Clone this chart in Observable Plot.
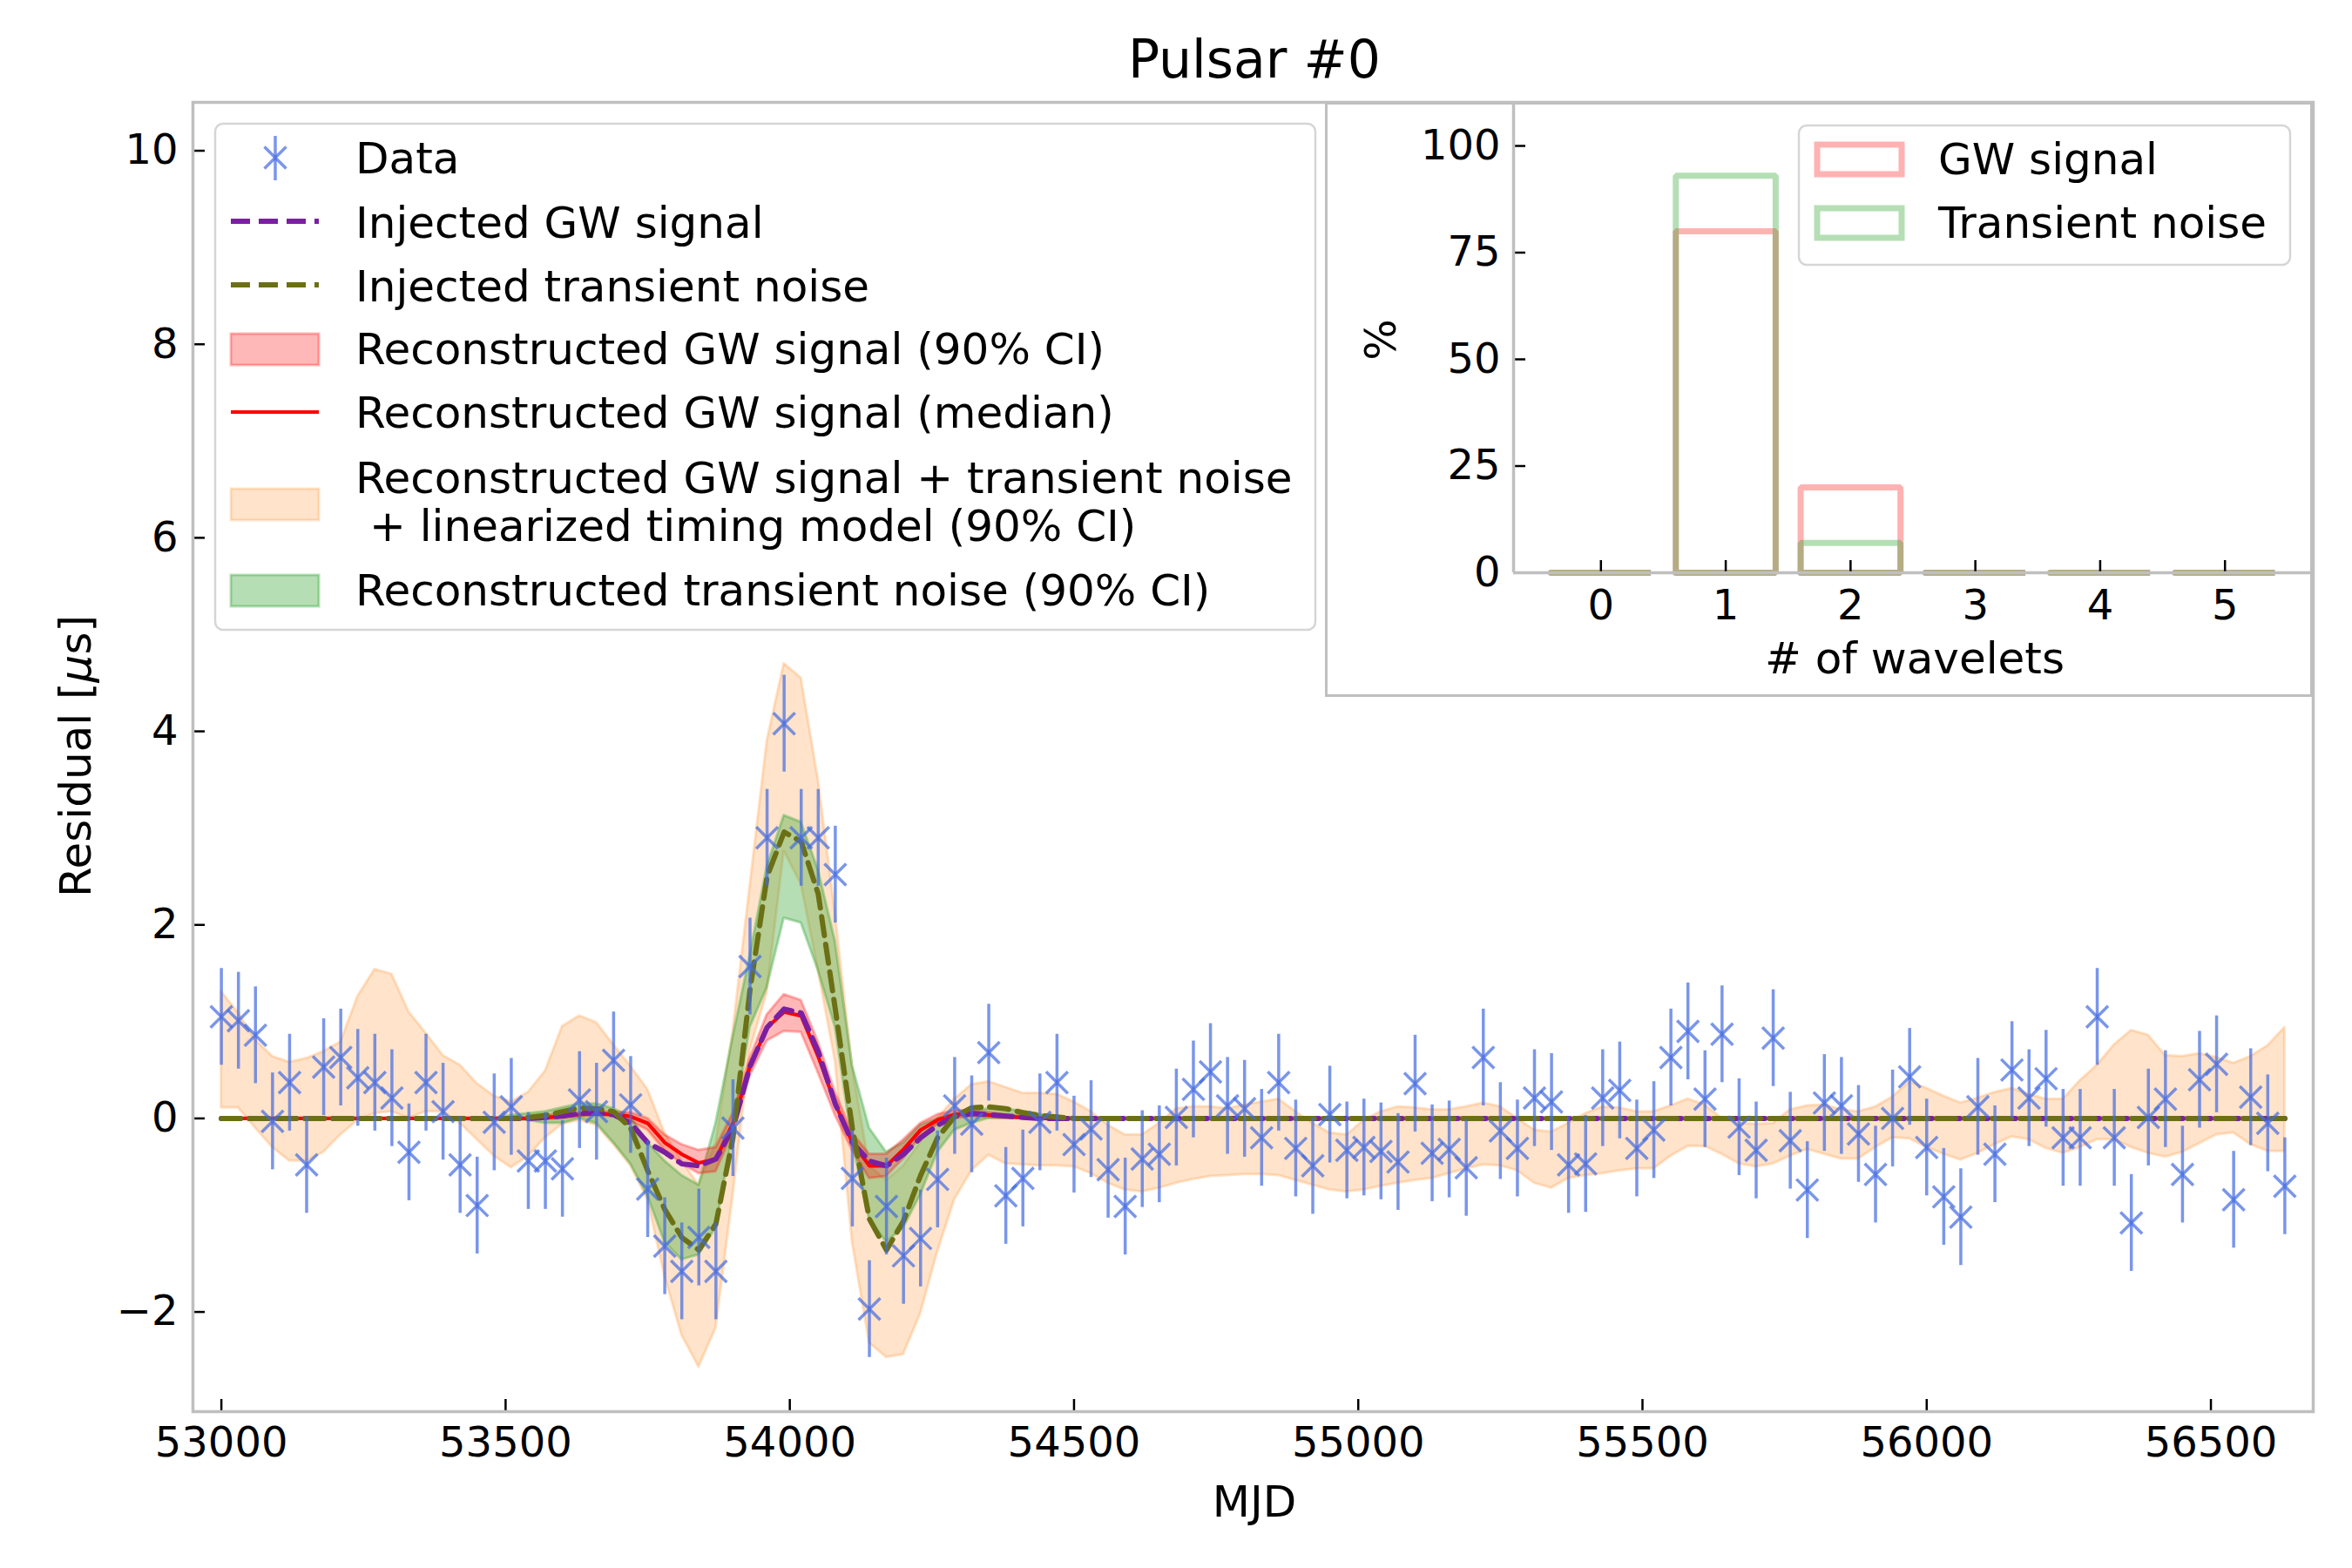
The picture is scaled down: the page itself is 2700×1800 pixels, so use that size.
<!DOCTYPE html>
<html>
<head>
<meta charset="utf-8">
<script src="https://cdn.jsdelivr.net/npm/d3@7"></script>
<script src="https://cdn.jsdelivr.net/npm/@observablehq/plot@0.6"></script>
<style>
  html, body { margin: 0; padding: 0; background: #fff; }
  #fig { position: relative; width: 2700px; height: 1800px; background: #fff; overflow: hidden; font-family: "DejaVu Sans", sans-serif; }
  #fig > svg, #fig > div { position: absolute; }
</style>
</head>
<body>
<div id="fig"></div>
<script>
// ---------------- data ----------------
const mjd = [
53000,53030,53060,53090,53120,53150,53180,53210,53240,53270,
53300,53330,53360,53390,53420,53450,53480,53510,53540,53570,
53600,53630,53660,53690,53720,53750,53780,53810,53840,53870,
53900,53930,53960,53990,54020,54050,54080,54110,54140,54170,
54200,54230,54260,54290,54320,54350,54380,54410,54440,54470,
54500,54530,54560,54590,54620,54650,54680,54710,54740,54770,
54800,54830,54860,54890,54920,54950,54980,55010,55040,55070,
55100,55130,55160,55190,55220,55250,55280,55310,55340,55370,
55400,55430,55460,55490,55520,55550,55580,55610,55640,55670,
55700,55730,55760,55790,55820,55850,55880,55910,55940,55970,
56000,56030,56060,56090,56120,56150,56180,56210,56240,56270,
56300,56330,56360,56390,56420,56450,56480,56510,56540,56570,
56600,56630];

const residual = [
1.05,1.01,0.86,-0.03,0.37,-0.48,0.53,0.63,0.42,0.37,
0.21,-0.35,0.37,0.07,-0.48,-0.90,-0.04,0.12,-0.44,-0.44,
-0.52,0.19,0.07,0.60,0.14,-0.73,-1.32,-1.58,-1.23,-1.58,
-0.10,1.57,2.90,4.08,2.90,2.90,2.52,-0.62,-1.97,-0.91,
-1.42,-1.24,-0.63,0.13,-0.06,0.68,-0.80,-0.62,-0.04,0.37,
-0.27,-0.11,-0.53,-0.91,-0.42,-0.37,0.01,0.30,0.48,0.13,
0.10,-0.20,0.37,-0.31,-0.49,0.04,-0.33,-0.30,-0.34,-0.45,
0.36,-0.36,-0.32,-0.51,0.63,-0.13,-0.31,0.21,0.17,-0.48,
-0.47,0.21,0.29,-0.31,-0.12,0.63,0.90,0.20,0.87,-0.09,
-0.33,0.83,-0.23,-0.74,0.16,0.13,-0.16,-0.58,0.00,0.43,
-0.30,-0.81,-1.02,0.12,-0.37,0.50,0.21,0.41,-0.20,-0.20,
1.05,-0.20,-1.08,0.01,0.20,-0.58,0.40,0.56,-0.84,0.22,
-0.05,-0.70];
const residualError = 0.5;

// GW + transient noise + linearized timing model, 90% CI
const fullHi = [
1.31,1.09,0.81,0.64,0.58,0.62,0.69,0.79,1.26,1.54,
1.49,1.10,0.88,0.65,0.55,0.36,0.23,0.17,0.27,0.49,
0.95,1.06,0.99,0.76,0.54,0.30,-0.15,-0.44,-0.69,-0.25,
0.90,2.40,3.90,4.70,4.55,3.50,2.12,0.54,-0.49,-0.64,
-0.49,-0.25,0.00,0.20,0.35,0.38,0.32,0.26,0.26,0.25,
0.17,0.07,-0.07,-0.17,-0.17,-0.05,0.10,0.12,0.12,0.10,
0.14,0.17,0.20,0.07,-0.05,-0.15,-0.17,-0.02,0.07,0.12,
0.11,0.09,0.09,0.12,0.16,0.12,0.00,-0.12,-0.14,-0.05,
0.05,0.12,0.11,0.07,0.07,0.13,0.20,0.14,0.00,-0.05,
-0.06,-0.05,0.09,0.13,0.14,0.09,0.07,0.12,0.22,0.38,
0.31,0.23,0.16,0.21,0.27,0.31,0.25,0.20,0.20,0.39,
0.55,0.76,0.91,0.86,0.65,0.64,0.67,0.63,0.57,0.64,
0.75,0.94];
const fullLo = [
0.11,0.11,-0.10,-0.30,-0.44,-0.44,-0.35,-0.17,-0.02,0.05,
0.07,0.00,0.07,0.07,-0.05,-0.22,-0.39,-0.51,-0.39,-0.20,
-0.06,-0.02,-0.07,-0.27,-0.49,-0.84,-1.63,-2.24,-2.57,-2.17,
-0.80,0.70,1.30,2.76,2.42,1.53,0.59,-1.28,-2.32,-2.47,
-2.44,-2.02,-1.38,-0.84,-0.54,-0.38,-0.47,-0.48,-0.49,-0.49,
-0.50,-0.57,-0.67,-0.74,-0.76,-0.72,-0.67,-0.63,-0.60,-0.59,
-0.58,-0.58,-0.59,-0.64,-0.69,-0.74,-0.76,-0.74,-0.70,-0.67,
-0.64,-0.62,-0.57,-0.52,-0.48,-0.49,-0.54,-0.67,-0.72,-0.62,
-0.59,-0.57,-0.54,-0.52,-0.52,-0.39,-0.29,-0.29,-0.37,-0.47,
-0.50,-0.47,-0.39,-0.32,-0.37,-0.42,-0.42,-0.30,-0.20,-0.21,
-0.30,-0.37,-0.43,-0.36,-0.27,-0.19,-0.22,-0.31,-0.36,-0.30,
-0.22,-0.22,-0.30,-0.36,-0.40,-0.35,-0.26,-0.17,-0.15,-0.27,
-0.34,-0.34];

// Reconstructed transient noise, 90% CI
const transientHi = [
0,0,0,0,0,0,0,0,0,0,
0,0,0,0,0,0,0,0.03,0.05,0.07,
0.11,0.15,0.15,0.10,0.02,-0.25,-0.44,-0.59,-0.69,-0.05,
0.84,1.68,2.60,3.13,3.06,2.57,1.83,0.55,-0.10,-0.35,
-0.25,-0.07,0.00,0.05,0.07,0.10,0.10,0.07,0.04,0.015,
0,0,0,0,0,0,0,0,0,0,
0,0,0,0,0,0,0,0,0,0,
0,0,0,0,0,0,0,0,0,0,
0,0,0,0,0,0,0,0,0,0,
0,0,0,0,0,0,0,0,0,0,
0,0,0,0,0,0,0,0,0,0,
0,0,0,0,0,0,0,0,0,0,
0,0];
const transientLo = [
0,0,0,0,0,0,0,0,0,0,
0,0,0,0,0,0,0,-0.01,-0.02,-0.05,
-0.05,0.00,-0.05,-0.25,-0.47,-0.80,-1.28,-1.46,-1.41,-1.13,
-0.15,0.94,1.35,2.07,2.02,1.53,0.94,-0.25,-1.04,-1.28,
-1.13,-0.79,-0.35,-0.12,-0.05,0,0,0,0,0,
0,0,0,0,0,0,0,0,0,0,
0,0,0,0,0,0,0,0,0,0,
0,0,0,0,0,0,0,0,0,0,
0,0,0,0,0,0,0,0,0,0,
0,0,0,0,0,0,0,0,0,0,
0,0,0,0,0,0,0,0,0,0,
0,0,0,0,0,0,0,0,0,0,
0,0];

// Reconstructed GW signal, 90% CI and median
const gwHi = [
0,0,0,0,0,0,0,0,0,0,
0,0,0,0,0,0,0,0,0,0.03,
0.04,0.06,0.07,0.06,0.06,0.00,-0.17,-0.27,-0.33,-0.30,
0.05,0.62,1.07,1.28,1.22,0.79,0.27,-0.15,-0.37,-0.37,
-0.22,-0.05,0.04,0.08,0.08,0.06,0.04,0.02,0,0,
0,0,0,0,0,0,0,0,0,0,
0,0,0,0,0,0,0,0,0,0,
0,0,0,0,0,0,0,0,0,0,
0,0,0,0,0,0,0,0,0,0,
0,0,0,0,0,0,0,0,0,0,
0,0,0,0,0,0,0,0,0,0,
0,0,0,0,0,0,0,0,0,0,
0,0];
const gwLo = [
0,0,0,0,0,0,0,0,0,0,
0,0,0,0,0,0,0,0,0,-0.01,
0.00,0.02,0.03,0.02,-0.03,-0.12,-0.33,-0.47,-0.57,-0.55,
-0.15,0.44,0.80,0.90,0.89,0.47,0.03,-0.33,-0.62,-0.60,
-0.42,-0.19,-0.06,0.00,0.02,0.01,0.00,0.00,0,0,
0,0,0,0,0,0,0,0,0,0,
0,0,0,0,0,0,0,0,0,0,
0,0,0,0,0,0,0,0,0,0,
0,0,0,0,0,0,0,0,0,0,
0,0,0,0,0,0,0,0,0,0,
0,0,0,0,0,0,0,0,0,0,
0,0,0,0,0,0,0,0,0,0,
0,0];
const gwMedian = [
0,0,0,0,0,0,0,0,0,0,
0,0,0,0,0,0,0,0,0,0.01,
0.02,0.04,0.05,0.04,0.02,-0.05,-0.25,-0.37,-0.46,-0.42,
-0.05,0.54,0.94,1.10,1.06,0.64,0.15,-0.25,-0.49,-0.49,
-0.32,-0.12,-0.015,0.04,0.05,0.035,0.02,0.01,0,0,
0,0,0,0,0,0,0,0,0,0,
0,0,0,0,0,0,0,0,0,0,
0,0,0,0,0,0,0,0,0,0,
0,0,0,0,0,0,0,0,0,0,
0,0,0,0,0,0,0,0,0,0,
0,0,0,0,0,0,0,0,0,0,
0,0,0,0,0,0,0,0,0,0,
0,0];

// Injected signals
const injectedGW = [
0,0,0,0,0,0,0,0,0,0,
0,0,0,0,0,0,0,0,0,0.01,
0.025,0.05,0.06,0.04,-0.05,-0.25,-0.35,-0.47,-0.49,-0.42,
-0.10,0.54,0.94,1.13,1.09,0.69,0.15,-0.25,-0.44,-0.49,
-0.37,-0.20,-0.07,0.02,0.05,0.04,0.025,0.01,0,0,
0,0,0,0,0,0,0,0,0,0,
0,0,0,0,0,0,0,0,0,0,
0,0,0,0,0,0,0,0,0,0,
0,0,0,0,0,0,0,0,0,0,
0,0,0,0,0,0,0,0,0,0,
0,0,0,0,0,0,0,0,0,0,
0,0,0,0,0,0,0,0,0,0,
0,0];
const injectedTransient = [
0,0,0,0,0,0,0,0,0,0,
0,0,0,0,0,0,0,0,0.01,0.03,
0.07,0.11,0.10,0.07,-0.10,-0.54,-0.94,-1.23,-1.36,-1.09,
-0.20,1.33,2.50,2.96,2.86,2.32,1.13,-0.10,-1.04,-1.36,
-1.06,-0.59,-0.20,0.02,0.11,0.12,0.10,0.06,0.03,0.015,
0,0,0,0,0,0,0,0,0,0,
0,0,0,0,0,0,0,0,0,0,
0,0,0,0,0,0,0,0,0,0,
0,0,0,0,0,0,0,0,0,0,
0,0,0,0,0,0,0,0,0,0,
0,0,0,0,0,0,0,0,0,0,
0,0,0,0,0,0,0,0,0,0,
0,0];

const xTicks = [53000, 53500, 54000, 54500, 55000, 55500, 56000, 56500];
const yTicks = [-2, 0, 2, 4, 6, 8, 10];

// Inset histogram (% of samples by number of wavelets)
const waveletBins = [0, 1, 2, 3, 4, 5];
const gwPercent = [0, 80, 20, 0, 0, 0];
const transientPercent = [0, 93, 7, 0, 0, 0];
const insetYTicks = [0, 25, 50, 75, 100];

// ---------------- build ----------------
const FONT = "DejaVu Sans";
const LFS = 50;   // legend / axis-label font size
const fmt = d3.format("d");
const rows = mjd.map((m, i) => ({
  mjd: m, res: residual[i],
  fHi: fullHi[i], fLo: fullLo[i],
  tHi: transientHi[i], tLo: transientLo[i],
  gHi: gwHi[i], gLo: gwLo[i], gMed: gwMedian[i],
  injG: injectedGW[i], injT: injectedTransient[i]
}));

const W = 2700, H = 1800;
const mL = 221, mR = 45, mT = 117, mB = 180;
const innerW = W - mL - mR, innerH = H - mT - mB;
const BLUE = "royalblue";

const main = Plot.plot({
  width: W, height: H,
  marginLeft: mL, marginRight: mR, marginTop: mT, marginBottom: mB,
  x: {domain: [52950, 56680], axis: null},
  y: {domain: [-3.03, 10.5], axis: null},
  style: {fontFamily: FONT, fontSize: "48px", background: "transparent", color: "black", overflow: "visible"},
  marks: [
    Plot.areaY(rows, {x: "mjd", y1: "fLo", y2: "fHi", fill: "#ff7f0e", fillOpacity: 0.22, stroke: "#ff7f0e", strokeOpacity: 0.22, strokeWidth: 3}),
    Plot.areaY(rows, {x: "mjd", y1: "tLo", y2: "tHi", fill: "#2ca02c", fillOpacity: 0.35, stroke: "#2ca02c", strokeOpacity: 0.35, strokeWidth: 3}),
    Plot.areaY(rows, {x: "mjd", y1: "gLo", y2: "gHi", fill: "red", fillOpacity: 0.28, stroke: "red", strokeOpacity: 0.28, strokeWidth: 3}),
    Plot.line(rows, {x: "mjd", y: "gMed", stroke: "red", strokeWidth: 4.2}),
    Plot.line(rows, {x: "mjd", y: "injG", stroke: "#7b1fa2", strokeWidth: 6, strokeDasharray: "22,10"}),
    Plot.line(rows, {x: "mjd", y: "injT", stroke: "#6b7015", strokeWidth: 6, strokeDasharray: "22,10"}),
    Plot.ruleX(rows, {x: "mjd", y1: d => d.res - residualError, y2: d => d.res + residualError, stroke: BLUE, strokeOpacity: 0.7, strokeWidth: 3.5}),
    Plot.dot(rows, {x: "mjd", y: "res", symbol: "times", r: 11.4, stroke: BLUE, strokeOpacity: 0.7, strokeWidth: 3.5}),
    // inward ticks
    Plot.tickX(xTicks, {x: d => d, stroke: "black", strokeWidth: 2.5, insetTop: innerH - 14}),
    Plot.tickY(yTicks, {y: d => d, stroke: "black", strokeWidth: 2.5, insetRight: innerW - 14}),
    // tick labels
    Plot.text(xTicks, {x: d => d, text: d => fmt(d), frameAnchor: "bottom", lineAnchor: "top", dy: 17, fill: "black", fontSize: 48}),
    Plot.text(yTicks, {y: d => d, text: d => fmt(d), frameAnchor: "left", textAnchor: "end", dx: -17, fill: "black", fontSize: 48}),
    Plot.frame({stroke: "#bfbfbf", strokeWidth: 3.5})
  ]
});
main.style.left = "0px"; main.style.top = "0px";

// inset
const iX = 1521, iY = 117, iW = 1134, iH = 683;
const imL = 216, imR = 1, imT = 1, imB = 143;
const iInnerW = iW - imL - imR, iInnerH = iH - imT - imB;
const halfBin = 0.4;
const histRows = [];
[["GW", gwPercent], ["TN", transientPercent]].forEach(([s, vals]) => {
  waveletBins.forEach((b, k) => {
    const v = vals[k], id = s + b;
    histRows.push({s, id, x: b - halfBin, y: 0});
    histRows.push({s, id, x: b - halfBin, y: v});
    histRows.push({s, id, x: b + halfBin, y: v});
    histRows.push({s, id, x: b + halfBin, y: 0});
    histRows.push({s, id, x: b - halfBin, y: 0});
  });
});

const inset = Plot.plot({
  width: iW, height: iH,
  marginLeft: imL, marginRight: imR, marginTop: imT, marginBottom: imB,
  x: {domain: [-0.7, 5.7], axis: null},
  y: {domain: [0, 110], axis: null},
  style: {fontFamily: FONT, fontSize: "48px", background: "transparent", color: "black", overflow: "visible"},
  marks: [
    Plot.line(histRows.filter(d => d.s === "GW"), {x: "x", y: "y", z: "id", stroke: "red", strokeOpacity: 0.3, strokeWidth: 7, strokeLinejoin: "miter"}),
    Plot.line(histRows.filter(d => d.s === "TN"), {x: "x", y: "y", z: "id", stroke: "#2ca02c", strokeOpacity: 0.35, strokeWidth: 7, strokeLinejoin: "miter"}),
    Plot.tickX(waveletBins, {x: d => d, stroke: "black", strokeWidth: 2.5, insetTop: iInnerH - 14}),
    Plot.tickY(insetYTicks, {y: d => d, stroke: "black", strokeWidth: 2.5, insetRight: iInnerW - 14}),
    Plot.text(waveletBins, {x: d => d, text: d => fmt(d), frameAnchor: "bottom", lineAnchor: "top", dy: 19, fill: "black", fontSize: 48}),
    Plot.text(insetYTicks, {y: d => d, text: d => fmt(d), frameAnchor: "left", textAnchor: "end", dx: -15, fill: "black", fontSize: 48}),
    Plot.ruleX([-0.7], {stroke: "#bfbfbf", strokeWidth: 3.5}),
    Plot.ruleY([0], {stroke: "#bfbfbf", strokeWidth: 3.5})
  ]
});

const fig = document.getElementById("fig");
fig.appendChild(main);

const insetBox = document.createElement("div");
Object.assign(insetBox.style, {left: iX + "px", top: iY + "px", width: iW + "px", height: iH + "px",
  boxSizing: "border-box", border: "3.5px solid #bfbfbf", background: "#fff"});
fig.appendChild(insetBox);
inset.style.left = iX + "px"; inset.style.top = iY + "px";
fig.appendChild(inset);

// overlay: titles, labels, legends
const ov = d3.create("svg").attr("width", W).attr("height", H)
  .style("left", "0px").style("top", "0px")
  .attr("font-family", FONT).attr("font-size", LFS).attr("fill", "black");

ov.append("text").attr("x", 1440).attr("y", 89).attr("text-anchor", "middle").attr("font-size", 60).text("Pulsar #0");
ov.append("text").attr("x", 1440).attr("y", 1741).attr("text-anchor", "middle").text("MJD");
const yl = ov.append("text").attr("transform", "translate(104,868) rotate(-90)").attr("text-anchor", "middle");
yl.append("tspan").text("Residual [");
yl.append("tspan").attr("font-style", "italic").text("μ");
yl.append("tspan").text("s]");
ov.append("text").attr("transform", "translate(1602,390) rotate(-90)").attr("text-anchor", "middle").text("%");
ov.append("text").attr("x", 2198).attr("y", 773).attr("text-anchor", "middle").text("# of wavelets");

// main legend
const lg = ov.append("g");
lg.append("rect").attr("x", 247).attr("y", 142).attr("width", 1263).attr("height", 581).attr("rx", 9)
  .attr("fill", "#fff").attr("fill-opacity", 0.8).attr("stroke", "#d5d5d5").attr("stroke-width", 2.5);
const hx0 = 265, hx1 = 366, hxc = 316, tx = 408;
// Data
lg.append("line").attr("x1", hxc).attr("x2", hxc).attr("y1", 156).attr("y2", 207)
  .attr("stroke", BLUE).attr("stroke-opacity", 0.7).attr("stroke-width", 3.5);
lg.append("path").attr("d", `M${hxc-12.5},${181-12.5}L${hxc+12.5},${181+12.5}M${hxc-12.5},${181+12.5}L${hxc+12.5},${181-12.5}`)
  .attr("stroke", BLUE).attr("stroke-opacity", 0.7).attr("stroke-width", 3.5).attr("fill", "none");
// dashed lines
lg.append("line").attr("x1", hx0).attr("x2", hx1).attr("y1", 254).attr("y2", 254)
  .attr("stroke", "#7b1fa2").attr("stroke-width", 6).attr("stroke-dasharray", "22,10");
lg.append("line").attr("x1", hx0).attr("x2", hx1).attr("y1", 327).attr("y2", 327)
  .attr("stroke", "#6b7015").attr("stroke-width", 6).attr("stroke-dasharray", "22,10");
// patches
const patch = (y, color, op) => lg.append("rect").attr("x", hx0).attr("y", y - 18).attr("width", hx1 - hx0).attr("height", 36)
  .attr("fill", color).attr("fill-opacity", op).attr("stroke", color).attr("stroke-opacity", op).attr("stroke-width", 3);
patch(401, "red", 0.28);
lg.append("line").attr("x1", hx0).attr("x2", hx1).attr("y1", 473).attr("y2", 473).attr("stroke", "red").attr("stroke-width", 4.2);
patch(579, "#ff7f0e", 0.22);
patch(678, "#2ca02c", 0.35);
const ltxt = (y, s) => lg.append("text").attr("x", tx).attr("y", y).attr("dominant-baseline", "central")
  .attr("xml:space", "preserve").style("white-space", "pre").text(s);
ltxt(182, "Data");
ltxt(256, "Injected GW signal");
ltxt(329, "Injected transient noise");
ltxt(401, "Reconstructed GW signal (90% CI)");
ltxt(474, "Reconstructed GW signal (median)");
ltxt(549, "Reconstructed GW signal + transient noise");
ltxt(604, " + linearized timing model (90% CI)");
ltxt(678, "Reconstructed transient noise (90% CI)");

// inset legend
const il = ov.append("g");
il.append("rect").attr("x", 2065).attr("y", 144).attr("width", 564).attr("height", 160).attr("rx", 9)
  .attr("fill", "#fff").attr("fill-opacity", 0.8).attr("stroke", "#d5d5d5").attr("stroke-width", 2.5);
il.append("rect").attr("x", 2086).attr("y", 166).attr("width", 97).attr("height", 34)
  .attr("fill", "none").attr("stroke", "red").attr("stroke-opacity", 0.3).attr("stroke-width", 7);
il.append("rect").attr("x", 2086).attr("y", 239).attr("width", 97).attr("height", 34)
  .attr("fill", "none").attr("stroke", "#2ca02c").attr("stroke-opacity", 0.35).attr("stroke-width", 7);
il.append("text").attr("x", 2225).attr("y", 183).attr("dominant-baseline", "central").text("GW signal");
il.append("text").attr("x", 2225).attr("y", 256).attr("dominant-baseline", "central").text("Transient noise");

fig.appendChild(ov.node());
</script>
</body>
</html>
